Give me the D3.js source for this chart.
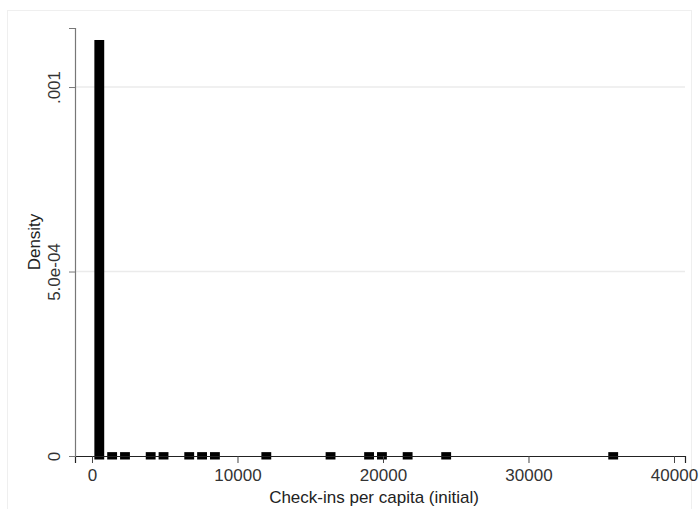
<!DOCTYPE html>
<html>
<head>
<meta charset="utf-8">
<script src="https://cdn.jsdelivr.net/npm/d3@7"></script>
<style>
  body { margin: 0; background: #fff; }
  text { font-family: "Liberation Sans", Arial, sans-serif; }
</style>
</head>
<body>
<div class="chart"></div>
<script>
// histogram bins (index from first bin) and their densities
const binStart = 60
const binWidth = 883
const binIndex = [0, 1, 2, 4, 5, 7, 8, 9, 13, 18, 21, 22, 24, 27, 40]
const density = [0.001118, 1e-6, 1e-6, 1e-6, 1e-6, 1e-6, 1e-6, 1e-6, 1e-6, 1e-6, 1e-6, 1e-6, 1e-6, 1e-6, 1e-6]
const xTicks = [0, 10000, 20000, 30000, 40000]
const yTicks = [0, 0.0005, 0.001]
const yTickLabels = ["0", "5.0e-04", ".001"]
const xTitle = "Check-ins per capita (initial)"
const yTitle = "Density"

const width = 699
const height = 509

const svg = d3.select(".chart").append("svg")
  .attr("width", width)
  .attr("height", height)

// faint outer frame
svg.append("rect")
  .attr("x", 7.5).attr("y", 10.5)
  .attr("width", 684).attr("height", 500)
  .attr("fill", "none")
  .attr("stroke", "#efefef")

const x = d3.scaleLinear().domain([-1168, 40756]).range([75, 685])
const y = d3.scaleLinear().domain([0, 0.00116]).range([456, 28])

// grid lines
svg.append("g")
  .selectAll("line")
  .data(yTicks.filter(d => d > 0))
  .enter()
  .append("line")
  .attr("x1", x.range()[0]).attr("x2", x.range()[1])
  .attr("y1", d => y(d)).attr("y2", d => y(d))
  .attr("stroke", "#ebebeb")
  .attr("stroke-width", 1.5)

// bars, drawn with a thick outline so the tiny ones show as squares
const bars = binIndex.map((b, i) => ({
  x0: binStart + b * binWidth,
  x1: binStart + (b + 1) * binWidth,
  d: density[i]
}))
const sw = 7
svg.append("g")
  .selectAll("rect")
  .data(bars)
  .enter()
  .append("rect")
  .attr("x", d => x(d.x0) + 1.5 + sw / 2)
  .attr("width", d => x(d.x1) - x(d.x0) - 3 - sw)
  .attr("y", d => y(d.d))
  .attr("height", d => Math.max(0, y(0) - y(d.d)))
  .attr("fill", "#000")
  .attr("stroke", "#000")
  .attr("stroke-width", sw)

// x axis
const xAxis = svg.append("g")
  .attr("transform", `translate(0, ${y(0)})`)
  .call(d3.axisBottom(x).tickValues(xTicks).tickSizeOuter(0).tickSize(7).tickFormat(d3.format("d")))
xAxis.select(".domain").attr("stroke", "#222").attr("stroke-width", 1.2)
xAxis.selectAll(".tick line").attr("stroke", "#444")
xAxis.selectAll(".tick text")
  .attr("font-size", 17).attr("fill", "#333").attr("dy", "0.9em")
  .style("font-family", "Liberation Sans, Arial, sans-serif")

svg.append("text")
  .attr("x", 374)
  .attr("y", 503)
  .attr("text-anchor", "middle")
  .attr("font-size", 17)
  .attr("fill", "#222")
  .text(xTitle)

// y axis
const yAxis = svg.append("g")
  .attr("transform", `translate(${x.range()[0]}, 0)`)
  .call(d3.axisLeft(y).tickValues(yTicks).tickSizeOuter(0).tickSize(6).tickFormat((d, i) => yTickLabels[i]))
yAxis.select(".domain").attr("stroke", "#777").attr("stroke-width", 1.2)
yAxis.selectAll(".tick line").attr("stroke", "#777")
yAxis.selectAll(".tick text").remove()
yAxis.selectAll(".tick")
  .append("text")
  .attr("transform", "translate(-15, 0) rotate(-90)")
  .attr("text-anchor", "middle")
  .attr("font-size", 17)
  .attr("fill", "#333")
  .text((d, i) => yTickLabels[i])

svg.append("text")
  .attr("transform", `translate(40, ${(y.range()[0] + y.range()[1]) / 2}) rotate(-90)`)
  .attr("text-anchor", "middle")
  .attr("font-size", 17)
  .attr("fill", "#222")
  .text(yTitle)
</script>
</body>
</html>
